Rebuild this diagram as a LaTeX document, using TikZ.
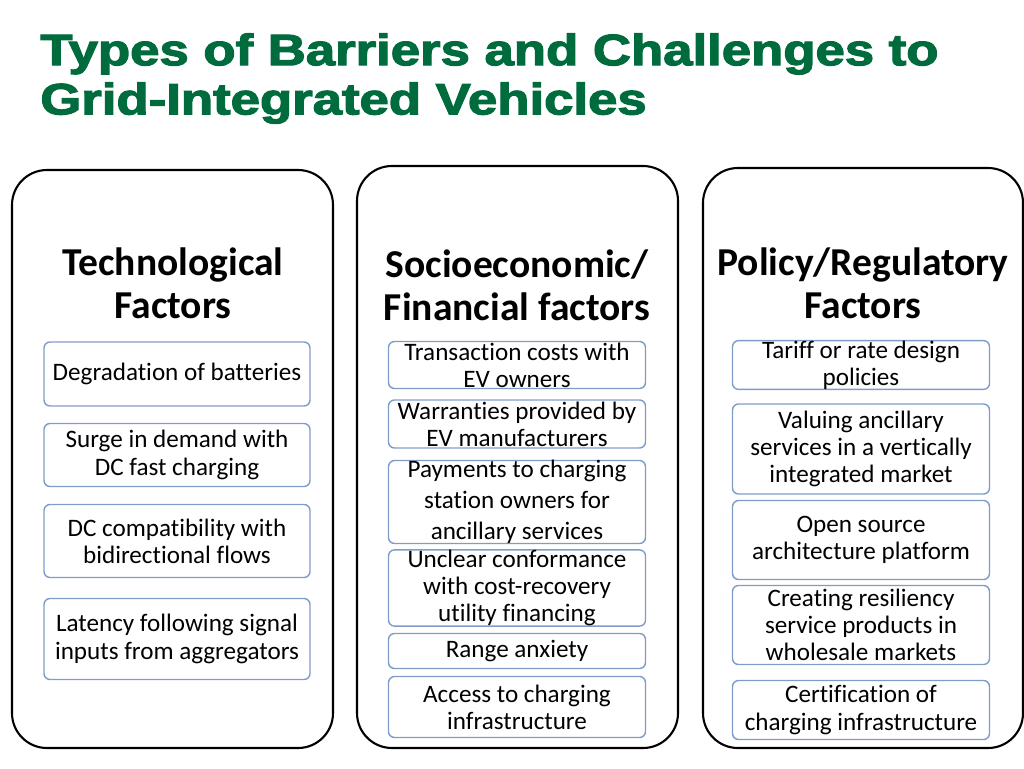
\documentclass[tikz,border=0pt]{standalone}
\usepackage{fontspec}
\setmainfont[Ligatures=CommonOff]{Carlito}
\newfontfamily\titlefont[BoldFeatures={FakeBold=2.5}]{Liberation Sans}
\definecolor{titlegreen}{HTML}{006B3C}
\definecolor{itemblue}{HTML}{7F9CC8}
\begin{document}
\begin{tikzpicture}[x=0.02cm,y=-0.02cm,
  column/.style={draw,line width=1.2pt,rounded corners=0.7cm},
  head/.style={align=center,font=\fontsize{22.5}{24.5}\selectfont\bfseries},
  item/.style={draw=itemblue,line width=0.8pt,rounded corners=0.12cm,align=center,
    inner sep=0pt,font=\fontsize{14.3}{15.5}\selectfont}]
\useasboundingbox (0,0) rectangle (1024,768);
\node[anchor=north west,align=left,text=titlegreen,inner sep=0pt,font=\titlefont\fontsize{25}{28}\selectfont\bfseries] (title) at (40,33)
  {\scalebox{1.2}[1]{Types of Barriers and Challenges to}\\
   \scalebox{1.2}[1]{Grid-Integrated Vehicles}};
% columns
\draw[column] (12,170) rectangle (333,748);
\draw[column] (357,166) rectangle (678,748);
\draw[column] (703,168) rectangle (1023,748);
\node[head] (h1) at (173,283) {Technological\\Factors};
\node[head] (h2) at (517,285) {Socioeconomic/\\Financial factors};
\node[head] (h3) at (863,283) {Policy/Regulatory\\Factors};
% technological
\node[item,minimum width=266*0.02cm,minimum height=64*0.02cm] (t1) at (177,374) {Degradation of batteries};
\node[item,minimum width=266*0.02cm,minimum height=63*0.02cm] (t2) at (177,455) {Surge in demand with\\DC fast charging};
\node[item,minimum width=266*0.02cm,minimum height=73*0.02cm] (t3) at (177,541) {DC compatibility with\\bidirectional flows};
\node[item,minimum width=266*0.02cm,minimum height=81*0.02cm] (t4) at (177,639) {Latency following signal\\inputs from aggregators};
% socioeconomic
\node[item,minimum width=257*0.02cm,minimum height=47*0.02cm] (s1) at (517,365) {Transaction costs with\\EV owners};
\node[item,minimum width=257*0.02cm,minimum height=48*0.02cm] (s2) at (517,424) {Warranties provided by\\EV manufacturers};
\node[item,minimum width=257*0.02cm,minimum height=83*0.02cm,font=\fontsize{14.3}{17.5}\selectfont] (s3) at (517,502) {Payments to charging\\station owners for\\ancillary services};
\node[item,minimum width=257*0.02cm,minimum height=76*0.02cm] (s4) at (517,588) {Unclear conformance\\with cost-recovery\\utility financing};
\node[item,minimum width=257*0.02cm,minimum height=35*0.02cm] (s5) at (517,651) {Range anxiety};
\node[item,minimum width=257*0.02cm,minimum height=61*0.02cm] (s6) at (517,707) {Access to charging\\infrastructure};
% policy
\node[item,minimum width=257*0.02cm,minimum height=47*0.02cm] (p1) at (861,365) {Tariff or rate design\\policies};
\node[item,minimum width=257*0.02cm,minimum height=90*0.02cm] (p2) at (861,449) {Valuing ancillary\\services in a vertically\\integrated market};
\node[item,minimum width=257*0.02cm,minimum height=79*0.02cm] (p3) at (861,540) {Open source\\architecture platform};
\node[item,minimum width=257*0.02cm,minimum height=79*0.02cm] (p4) at (861,625) {Creating resiliency\\service products in\\wholesale markets};
\node[item,minimum width=257*0.02cm,minimum height=59*0.02cm] (p5) at (861,710) {Certification of\\charging infrastructure};
\end{tikzpicture}
\end{document}
